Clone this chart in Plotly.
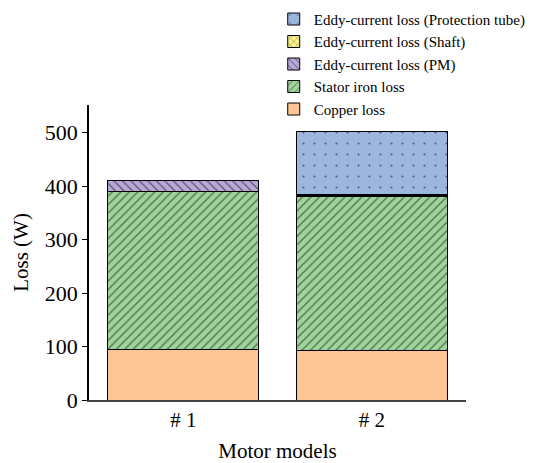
import plotly.graph_objects as go

models = ["# 1", "# 2"]
copper = [94, 92]
stator = [296, 289]
pm = [20, 2]
shaft = [0, 1.5]
tube = [0, 118]

series = [
    ("Copper loss", copper, "#FDC694", ""),
    ("Stator iron loss", stator, "#9FD49A", "/"),
    ("Eddy-current loss (PM)", pm, "#B8A8D8", "\\"),
    ("Eddy-current loss (Shaft)", shaft, "#FFF58C", "x"),
    ("Eddy-current loss (Protection tube)", tube, "#9DB6E0", "."),
]

FONT = "Liberation Serif, Times New Roman, serif"

fig = go.Figure()
for name, vals, color, shape in series:
    pat = dict(shape=shape, fgcolor="black", bgcolor=color, fillmode="overlay")
    if shape == ".":
        pat.update(size=11, solidity=0.03)
    elif shape:
        pat.update(size=6, solidity=0.2)
    fig.add_trace(go.Bar(
        x=models, y=vals, name=name,
        marker=dict(color=color, line=dict(color="black", width=1), pattern=pat),
    ))

fig.update_layout(
    barmode="stack",
    bargap=0.2,
    width=547, height=463,
    margin=dict(l=89, r=81, t=105, b=63, autoexpand=False),
    plot_bgcolor="white", paper_bgcolor="white",
    font=dict(family=FONT, size=21, color="black"),
    legend=dict(
        x=0.49, y=0.994, xref="paper", yref="container",
        xanchor="left", yanchor="top",
        font=dict(family=FONT, size=15, color="black"), traceorder="reversed",
        itemwidth=30, tracegroupgap=0,
        bgcolor="rgba(0,0,0,0)",
    ),
    showlegend=True,
)
fig.update_xaxes(
    automargin=False,
    showline=True, linecolor="#444", linewidth=1.5,
    ticks="", tickfont=dict(family=FONT, size=21),
    title=dict(text="Motor models", standoff=15, font=dict(family=FONT, size=21)),
)
fig.update_yaxes(
    automargin=False,
    range=[0, 552], dtick=100, showgrid=False, zeroline=False,
    showline=True, linecolor="black", linewidth=1.5,
    ticks="outside", ticklen=5, tickcolor="black",
    tickfont=dict(family=FONT, size=22),
    title=dict(text="Loss (W)", standoff=10, font=dict(family=FONT, size=21)),
)

fig.write_html("out.html", config={"displayModeBar": False},
               post_script="document.body.style.margin='0px';")
